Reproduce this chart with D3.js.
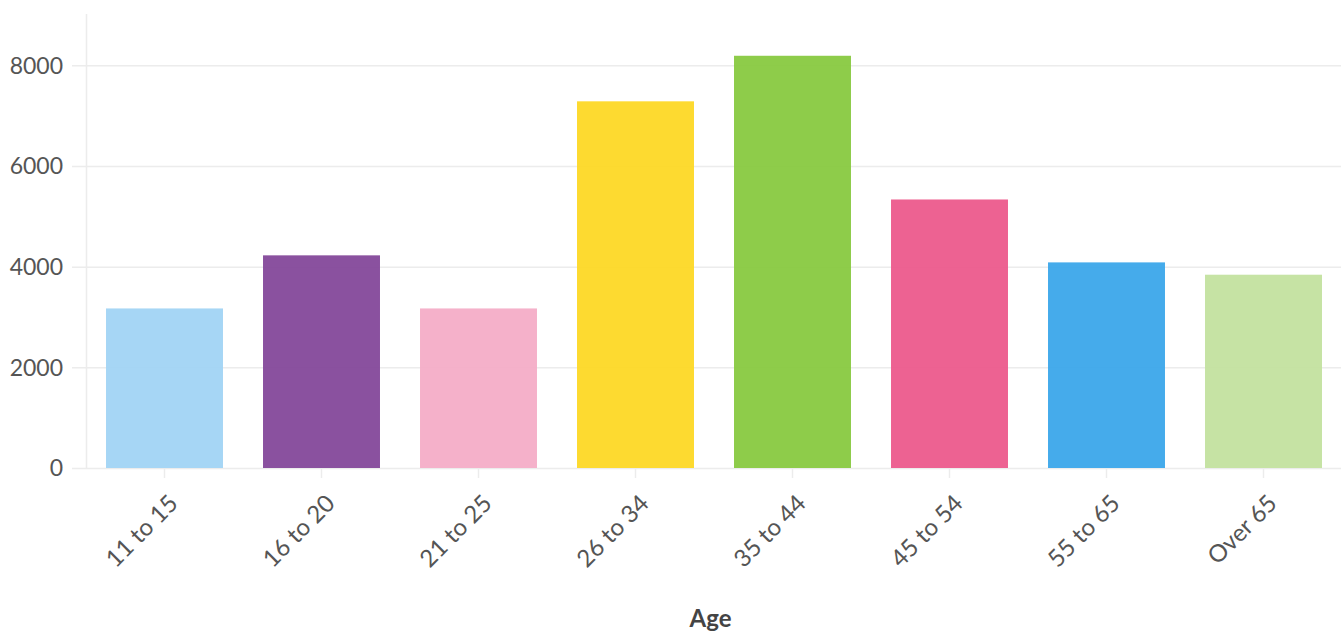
<!DOCTYPE html>
<html><head><meta charset="utf-8">
<script src="https://cdn.jsdelivr.net/npm/d3@7"></script>
<style>
html,body{margin:0;padding:0;background:#fff;}
svg text{font-family:Lato,"Open Sans",sans-serif;}
</style></head>
<body><svg id="c" width="1341" height="633"></svg>
<script>
const categories = ["11 to 15","16 to 20","21 to 25","26 to 34","35 to 44","45 to 54","55 to 65","Over 65"];
const values = [3170, 4225, 3170, 7285, 8190, 5335, 4085, 3840];
const colors = ["#a1d4f4","#84489a","#f4adc7","#fdd825","#88c940","#ec5a8c","#3ba7ea","#c3e29f"];
const yTicks = [0, 2000, 4000, 6000, 8000];
const xTitle = "Age";

const svg = d3.select("#c");
const m = {left: 86, right: -1, top: 15, bottom: 165};
const W = 1341, H = 633;
const x = d3.scaleBand().domain(categories).range([m.left, W - m.right]).paddingInner(0.255).paddingOuter(0.1275);
const y = d3.scaleLinear().domain([0, 9000]).range([H - m.bottom, m.top]);

// gridlines
svg.append("g").selectAll("line").data(yTicks).join("line")
  .attr("x1", m.left - 14).attr("x2", W).attr("y1", d => y(d) + 0.5).attr("y2", d => y(d) + 0.5)
  .attr("stroke", "#ececec").attr("stroke-width", 1.5);
// vertical axis line
svg.append("line").attr("x1", m.left + 0.5).attr("x2", m.left + 0.5).attr("y1", 14).attr("y2", y(0))
  .attr("stroke", "#ececec").attr("stroke-width", 1.5);

// bars
svg.append("g").selectAll("rect").data(categories).join("rect")
  .attr("x", d => x(d)).attr("width", x.bandwidth())
  .attr("y", (d, i) => y(values[i])).attr("height", (d, i) => y(0) - y(values[i]))
  .attr("fill", (d, i) => colors[i]).attr("fill-opacity", 0.95);

// y labels
svg.append("g").selectAll("text").data(yTicks).join("text")
  .attr("x", 63).attr("y", d => y(d)).attr("dy", "0.36em")
  .attr("text-anchor", "end").attr("fill", "#555").attr("font-size", 23)
  .text(d => d);

// x ticks
svg.append("g").selectAll("line").data(categories).join("line")
  .attr("x1", d => x(d) + x.bandwidth() / 2).attr("x2", d => x(d) + x.bandwidth() / 2)
  .attr("y1", y(0)).attr("y2", y(0) + 10)
  .attr("stroke", "#ececec").attr("stroke-width", 1.5);

// x labels
svg.append("g").selectAll("text").data(categories).join("text")
  .attr("transform", d => `translate(${x(d) + x.bandwidth() / 2 + 9},${y(0) + 31}) rotate(-45)`)
  .attr("text-anchor", "end").attr("dy", "0.35em")
  .attr("fill", "#555").attr("font-size", 24)
  .text(d => d);

svg.append("text").attr("x", (m.left + W) / 2 - 3).attr("y", 627)
  .attr("text-anchor", "middle").attr("font-weight", "bold").attr("font-size", 24).attr("fill", "#444")
  .text(xTitle);
</script></body></html>
